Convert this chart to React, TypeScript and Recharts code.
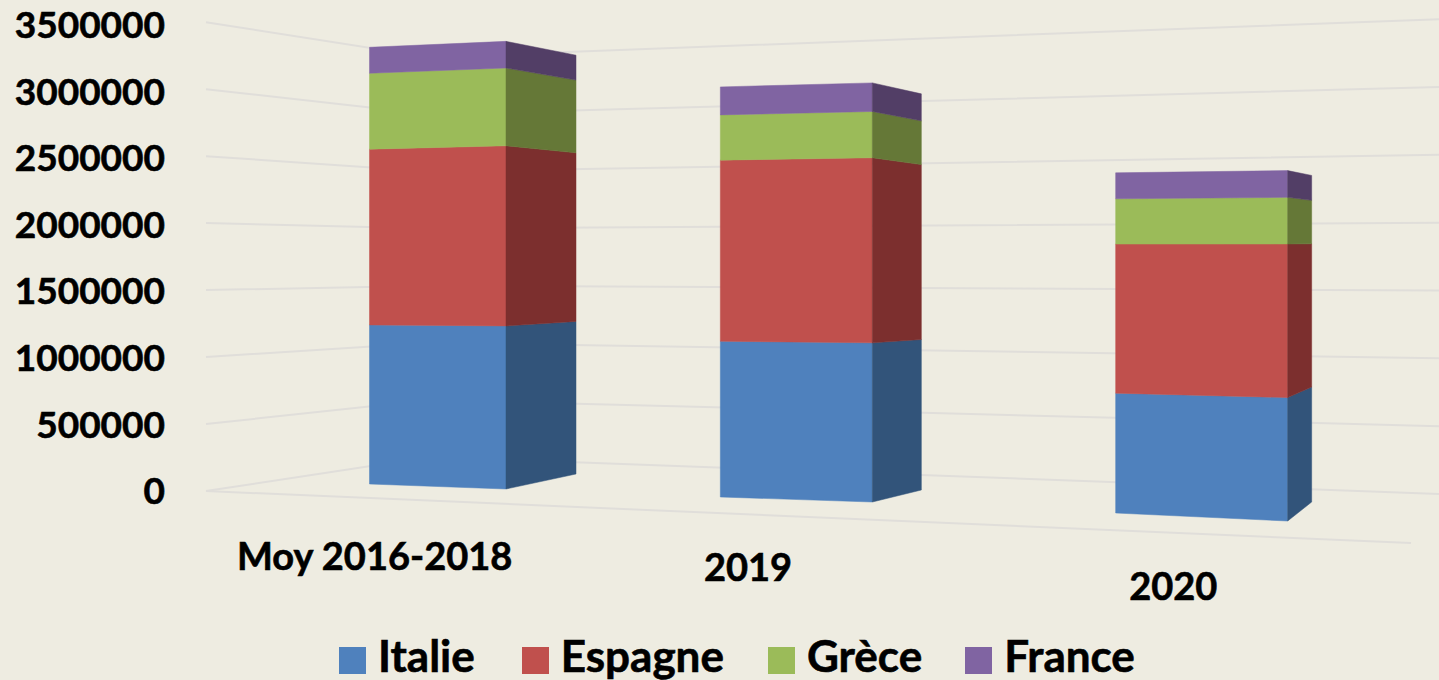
import { BarChart, Bar, XAxis, YAxis, CartesianGrid, Legend } from "recharts";

const WIDTH = 1439;
const HEIGHT = 680;
const PLOT_BOTTOM = 491;
const FONT = "Lato, 'Open Sans', sans-serif";

const categories = ["Moy 2016-2018", "2019", "2020"];
const italie = [1195000, 1170000, 900000];
const espagne = [1320000, 1360000, 1120000];
const grece = [570000, 340000, 340000];
const france = [195000, 210000, 195000];
const yTicks = [0, 500000, 1000000, 1500000, 2000000, 2500000, 3000000, 3500000];

const data = categories.map((name, i) => ({
  name,
  italie: italie[i],
  espagne: espagne[i],
  grece: grece[i],
  france: france[i],
}));

// fake 3D: every vertical edge of a column has its own foot and stretch
const columns = [
  { shift: 33.5, front: 136.5, side: 70, footL: 484, footR: 489, footS: 474, kR: 1.025, kS: 0.959 },
  { shift: -27, front: 152, side: 49, footL: 497, footR: 502, footS: 490, kR: 1.022, kS: 0.966 },
  { shift: -43, front: 172, side: 24, footL: 513, footR: 521, footS: 502, kR: 1.03, kS: 0.96 },
];

// label placement, the axis labels step down with the floor
const labelShift = [-36, -74, -60];
const labelDrop = [71, 82, 101];
const legendGaps = [47, 44, 43, 0];

// back walls of the 3D box, used for the grid lines
const wall = [
  { x: 206, foot: 491, k: 1.006 },
  { x: 430, foot: 457, k: 0.858 },
  { x: 1439, foot: 494, k: 1.019 },
];
const GRID = "#E0DEDA";

function Column3D(props: any) {
  const { x, y, height, index, fill, sideFill } = props;
  const c = columns[index];
  const left = x + c.shift;
  const right = left + c.front;
  const outer = right + c.side;
  const bottom = y + height;
  const edge = (foot: number, k: number, py: number) => foot - (PLOT_BOTTOM - py) * k;

  const front = [
    [left, edge(c.footL, 1, y)],
    [right, edge(c.footR, c.kR, y)],
    [right, edge(c.footR, c.kR, bottom)],
    [left, edge(c.footL, 1, bottom)],
  ];
  const side = [
    [right, edge(c.footR, c.kR, y)],
    [outer, edge(c.footS, c.kS, y)],
    [outer, edge(c.footS, c.kS, bottom)],
    [right, edge(c.footR, c.kR, bottom)],
  ];
  return (
    <g>
      <polygon points={front.map((p) => p.join(",")).join(" ")} fill={fill} stroke={fill} strokeWidth={0.5} />
      <polygon points={side.map((p) => p.join(",")).join(" ")} fill={sideFill} stroke={sideFill} strokeWidth={0.5} />
    </g>
  );
}

function GridLine(props: any) {
  const y = props.y1;
  const points = wall.map((w) => `${w.x},${w.foot - (PLOT_BOTTOM - y) * w.k}`).join(" ");
  return (
    <g>
      <polyline points={points} fill="none" stroke={GRID} strokeWidth={2} />
      {Math.abs(y - PLOT_BOTTOM) < 1 && (
        <line x1={206} y1={y} x2={1411} y2={y + 52} stroke={GRID} strokeWidth={2} />
      )}
    </g>
  );
}

function CategoryTick(props: any) {
  const { x, y, payload, index } = props;
  return (
    <text
      x={x + labelShift[index]}
      y={y + labelDrop[index]}
      textAnchor="middle"
      fontFamily={FONT}
      fontWeight={700}
      fontSize={38}
      fill="#000"
      stroke="#000"
      strokeWidth={0.6}
    >
      {payload.value}
    </text>
  );
}

function LegendRow(props: any) {
  return (
    <div style={{ display: "flex", alignItems: "center", fontFamily: FONT, fontWeight: 700, fontSize: 44, color: "#000", lineHeight: "50px", WebkitTextStroke: "0.6px #000" }}>
      {props.payload.map((item: any, i: number) => (
        <div key={item.value} style={{ display: "flex", alignItems: "center", marginRight: legendGaps[i] }}>
          <span style={{ width: 27, height: 27, background: item.color, marginRight: 12, marginTop: 10 }} />
          {item.value}
        </div>
      ))}
    </div>
  );
}

export default function App() {
  return (
    <div style={{ position: "fixed", left: 0, top: 0, width: WIDTH, height: HEIGHT, background: "#EEECE1", overflow: "hidden" }}>
      <BarChart width={WIDTH} height={HEIGHT} data={data} margin={{ top: 25, right: 0, bottom: 129, left: 0 }} barSize={150}>
        <CartesianGrid vertical={false} horizontal={(p: any) => <GridLine key={p.key ?? p.y1} {...p} />} />
        <XAxis dataKey="name" height={60} interval={0} axisLine={false} tickLine={false} tick={<CategoryTick />} />
        <YAxis
          width={205}
          domain={[0, 3500000]}
          ticks={yTicks}
          interval={0}
          axisLine={false}
          tickLine={false}
          tickMargin={34}
          tick={{ fontFamily: FONT, fontWeight: 700, fontSize: 37, fill: "#000", stroke: "#000", strokeWidth: 0.6 }}
        />
        <Legend
          layout="horizontal"
          verticalAlign="middle"
          itemSorter={null}
          content={<LegendRow />}
          wrapperStyle={{ left: 339, top: 630, width: 1000, bottom: "auto" }}
        />
        <Bar dataKey="italie" name="Italie" stackId="a" fill="#4F81BD" isAnimationActive={false} shape={<Column3D sideFill="#32547A" />} />
        <Bar dataKey="espagne" name="Espagne" stackId="a" fill="#C0504D" isAnimationActive={false} shape={<Column3D sideFill="#7C2F2E" />} />
        <Bar dataKey="grece" name="Grèce" stackId="a" fill="#9BBB59" isAnimationActive={false} shape={<Column3D sideFill="#657837" />} />
        <Bar dataKey="france" name="France" stackId="a" fill="#8064A2" isAnimationActive={false} shape={<Column3D sideFill="#523E66" />} />
      </BarChart>
    </div>
  );
}
